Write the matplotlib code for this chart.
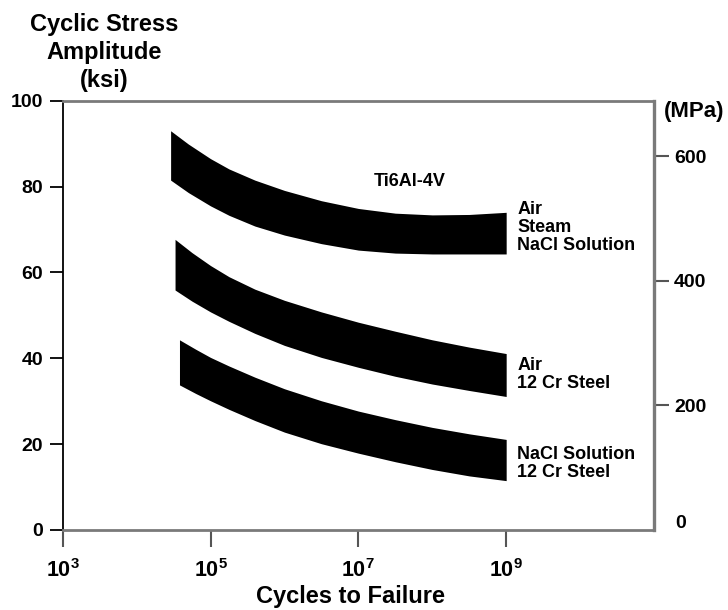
import numpy as np
import matplotlib.pyplot as plt

plt.rcParams['font.family'] = 'Liberation Sans'
plt.rcParams['font.weight'] = 'bold'
plt.rcParams['mathtext.fontset'] = 'custom'
plt.rcParams['mathtext.rm'] = 'Liberation Sans:bold'
plt.rcParams['mathtext.bf'] = 'Liberation Sans:bold'

# ── S-N scatter bands: log10(cycles) with upper / lower edge in ksi ──
ti_logn = [4.46, 4.7, 5.0, 5.25, 5.6, 6.0, 6.5, 7.0, 7.5, 8.0, 8.5, 9.0]
ti_upper = [93.0, 89.9, 86.5, 84.1, 81.5, 79.1, 76.7, 74.9, 73.8, 73.4, 73.5, 74.0]
ti_lower = [81.5, 78.6, 75.5, 73.3, 70.8, 68.7, 66.7, 65.2, 64.5, 64.3, 64.3, 64.3]

cr_air_logn = [4.52, 4.75, 5.0, 5.25, 5.6, 6.0, 6.5, 7.0, 7.5, 8.0, 8.5, 9.0]
cr_air_upper = [67.7, 64.6, 61.6, 59.0, 56.1, 53.5, 50.8, 48.4, 46.3, 44.3, 42.6, 41.1]
cr_air_lower = [55.9, 53.3, 50.8, 48.6, 45.8, 43.0, 40.2, 37.9, 35.8, 34.0, 32.5, 31.1]

cr_nacl_logn = [4.58, 4.8, 5.0, 5.25, 5.6, 6.0, 6.5, 7.0, 7.5, 8.0, 8.5, 9.0]
cr_nacl_upper = [44.3, 42.1, 40.2, 38.2, 35.6, 32.9, 30.1, 27.7, 25.7, 23.9, 22.4, 21.1]
cr_nacl_lower = [33.8, 31.8, 30.1, 28.1, 25.5, 22.8, 20.1, 17.9, 15.9, 14.1, 12.6, 11.5]

x_exponents = [3, 5, 7, 9]
ksi_ticks = [0, 20, 40, 60, 80, 100]
mpa_ticks = [200, 400, 600]
KSI_TO_MPA = 6.895

GRAY = '#7a7a7a'

fig = plt.figure(figsize=(7.28, 6.10), dpi=100)
W, H = 728, 610
ax = fig.add_axes([62.7 / W, 1 - 530 / H, (654 - 62.7) / W, (530 - 100.7) / H])

bands = [
    (ti_logn, ti_upper, ti_lower),
    (cr_air_logn, cr_air_upper, cr_air_lower),
    (cr_nacl_logn, cr_nacl_upper, cr_nacl_lower),
]
for logn, up, lo in bands:
    n = 10.0 ** np.array(logn)
    ax.fill_between(n, lo, up, color='black', linewidth=0)

ax.set_xscale('log')
ax.set_xlim(1e3, 1e11)
ax.set_ylim(0, 100)

ax.set_xticks([10.0 ** e for e in x_exponents])
ax.set_xticklabels([f'$10^{{{e}}}$' for e in x_exponents])
ax.xaxis.set_minor_locator(plt.NullLocator())
ax.set_yticks(ksi_ticks)
ax.set_yticklabels([str(t) for t in ksi_ticks])

ax.tick_params(axis='x', direction='out', length=12, width=1.5, color='#555555',
               labelsize=15.5, pad=9)
ax.tick_params(axis='y', direction='out', length=9.5, width=1.3, color='black',
               labelsize=14, pad=4.5)

for side in ['top', 'bottom']:
    ax.spines[side].set_color(GRAY)
    ax.spines[side].set_linewidth(2.0)
ax.spines['left'].set_color('black')
ax.spines['left'].set_linewidth(1.3)
ax.spines['right'].set_visible(False)

# right-hand MPa scale
ax2 = ax.twinx()
ax2.set_ylim(0, 100 * KSI_TO_MPA)
ax2.set_yticks(mpa_ticks)
ax2.set_yticklabels([str(t) for t in mpa_ticks])
ax2.tick_params(axis='y', direction='out', length=10.5, width=1.5, color='#555555',
                labelsize=14, pad=4)
for side in ['top', 'bottom', 'left']:
    ax2.spines[side].set_visible(False)
ax2.spines['right'].set_color(GRAY)
ax2.spines['right'].set_linewidth(2.4)
ax2.annotate('0', xy=(1, 0), xycoords=('axes fraction', 'data'),
             xytext=(27, 7), textcoords='offset pixels',
             ha='center', va='center', fontsize=14)

# band labels
ax.text(10 ** 7.70, 81.1, 'Ti6Al-4V', ha='center', va='center', fontsize=13)
ax.text(10 ** 9.15, 70.5, 'Air\nSteam\nNaCl Solution', ha='left', va='center',
        fontsize=13, linespacing=1.1)
ax.text(10 ** 9.15, 36.2, 'Air\n12 Cr Steel', ha='left', va='center',
        fontsize=13, linespacing=1.1)
ax.text(10 ** 9.15, 15.5, 'NaCl Solution\n12 Cr Steel', ha='left', va='center',
        fontsize=13, linespacing=1.1)

# axis titles
fig.text(104 / W, 1 - 52.5 / H, 'Cyclic Stress\nAmplitude\n(ksi)',
         ha='center', va='center', fontsize=17, linespacing=1.3)
fig.text(694 / W, 1 - 111 / H, '(MPa)', ha='center', va='center', fontsize=16)
fig.text(350 / W, 1 - 597 / H, 'Cycles to Failure', ha='center', va='center',
         fontsize=17)

fig.savefig('out.png', dpi=100)
